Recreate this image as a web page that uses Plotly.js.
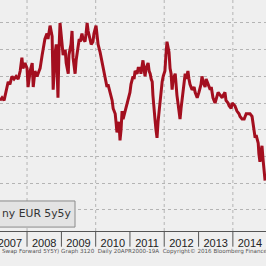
<!DOCTYPE html>
<html><head><meta charset="utf-8">
<script src="https://cdn.plot.ly/plotly-3.0.1.min.js"></script>
<style>html,body{margin:0;padding:0;background:#efefef;}#c{width:266px;height:266px;}</style>
</head><body><div id="c"></div>
<script>
// time in decimal years
const t = [2007.21,2007.27,2007.33,2007.39,2007.45,2007.50,2007.56,2007.62,2007.68,2007.74,2007.80,2007.85,2007.88,2007.94,
2008.00,2008.03,2008.09,2008.15,2008.18,2008.23,2008.29,2008.35,2008.38,2008.44,2008.47,2008.52,2008.58,2008.61,2008.67,2008.70,2008.73,2008.76,2008.79,2008.82,2008.85,2008.87,2008.90,2008.93,2008.96,2008.99,
2009.02,2009.05,2009.11,2009.14,2009.20,2009.22,2009.28,2009.31,2009.34,2009.37,2009.40,2009.43,2009.49,2009.52,2009.55,2009.60,2009.63,2009.69,2009.72,2009.75,2009.78,2009.84,2009.87,2009.92,2009.95,
2010.01,2010.04,2010.07,2010.13,2010.19,2010.25,2010.30,2010.33,2010.36,2010.42,2010.48,2010.51,2010.57,2010.60,2010.62,2010.68,2010.71,2010.74,2010.77,2010.80,2010.86,2010.92,2010.95,
2011.00,2011.03,2011.09,2011.12,2011.15,2011.21,2011.24,2011.30,2011.32,2011.38,2011.41,2011.44,2011.47,2011.53,2011.56,2011.59,2011.62,2011.65,2011.67,2011.70,2011.73,2011.76,2011.79,2011.82,2011.85,2011.88,2011.91,2011.94,2011.97,
2012.02,2012.05,2012.08,2012.11,2012.14,2012.17,2012.20,2012.23,2012.26,2012.32,2012.34,2012.37,2012.40,2012.43,2012.46,2012.49,2012.52,2012.55,2012.61,2012.64,2012.69,2012.72,2012.75,2012.81,2012.87,2012.90,2012.96,
2013.01,2013.07,2013.10,2013.13,2013.19,2013.22,2013.28,2013.34,2013.37,2013.42,2013.48,2013.54,2013.57,2013.63,2013.69,2013.72,2013.77,2013.80,2013.86,2013.89,2013.95,2013.98,
2014.04,2014.06,2014.12,2014.18,2014.21,2014.27,2014.33,2014.36,2014.39,2014.44,2014.50,2014.56,2014.59,2014.65,2014.68,2014.74,2014.76,2014.79,2014.82,2014.85,2014.88,2014.91,2014.94];
// EUR 5y5y values (%)
const swap5y5y = [2.31,2.32,2.31,2.34,2.38,2.37,2.40,2.39,2.40,2.39,2.42,2.47,2.43,2.45,
2.43,2.36,2.42,2.45,2.36,2.42,2.40,2.42,2.43,2.48,2.51,2.54,2.56,2.54,2.59,2.56,2.55,2.35,2.46,2.49,2.52,2.46,2.32,2.50,2.60,2.56,
2.51,2.48,2.50,2.45,2.41,2.48,2.52,2.57,2.47,2.44,2.41,2.46,2.53,2.54,2.53,2.56,2.54,2.53,2.56,2.60,2.57,2.54,2.52,2.53,2.56,
2.59,2.56,2.52,2.49,2.45,2.41,2.39,2.36,2.37,2.34,2.31,2.28,2.26,2.22,2.19,2.23,2.16,2.20,2.27,2.24,2.27,2.29,2.31,
2.34,2.37,2.40,2.39,2.42,2.41,2.43,2.43,2.41,2.46,2.42,2.40,2.43,2.45,2.42,2.41,2.39,2.38,2.33,2.27,2.24,2.20,2.17,2.23,2.27,2.31,2.35,2.38,2.40,
2.42,2.48,2.53,2.51,2.49,2.43,2.41,2.35,2.39,2.41,2.37,2.33,2.30,2.27,2.24,2.28,2.31,2.36,2.41,2.39,2.42,2.39,2.37,2.35,2.36,2.34,2.32,
2.34,2.37,2.40,2.38,2.36,2.39,2.37,2.35,2.36,2.32,2.30,2.33,2.34,2.33,2.32,2.33,2.34,2.31,2.30,2.29,2.28,2.30,
2.29,2.29,2.27,2.26,2.25,2.24,2.24,2.25,2.26,2.26,2.26,2.25,2.22,2.17,2.18,2.15,2.11,2.08,2.12,2.14,2.09,2.04,2.01];
const years = [2007, 2008, 2009, 2010, 2011, 2012, 2013, 2014];
const gridYears = [2008, 2010, 2012, 2014];
const legendText = 'ny EUR 5y5y';
const footerText = 'Swap Forward 5Y5Y) Graph 3120  Daily 20APR2000-19A  Copyright\u00a9 2016 Bloomberg Finance L.P.';

function toDate(y){
  const Y = Math.floor(y), f = y - Y;
  const a = Date.UTC(Y,0,1), b = Date.UTC(Y+1,0,1);
  return new Date(a + f*(b-a)).toISOString().slice(0,16).replace('T',' ');
}
const dates = t.map(toDate);

const shapes = gridYears.map(y => ({type:'line', xref:'x', yref:'paper', x0:y+'-01-01', x1:y+'-01-01', y0:0, y1:1,
  line:{color:'#b4b4b4', width:1, dash:'dot'}, layer:'below'}));
years.slice(1).forEach(y => shapes.push({type:'line', xref:'x', yref:'paper', x0:y+'-01-01', x1:y+'-01-01',
  y0:0, y1:-0.068, line:{color:'#555', width:1}}));
shapes.push({type:'rect', xref:'paper', yref:'paper', x0:-0.02, x1:0.282, y0:0.017, y1:0.13,
  fillcolor:'#e3e3e3', line:{color:'#8a8a8a', width:1}});

Plotly.newPlot('c', [{
  x: dates, y: swap5y5y, type:'scatter', mode:'lines',
  line:{color:'#a30f1f', width:3}, hoverinfo:'skip'
}], {
  width:266, height:266,
  margin:{l:0, r:0, t:0, b:35, pad:0},
  paper_bgcolor:'#efefef', plot_bgcolor:'#efefef',
  showlegend:false,
  xaxis:{type:'date', range:['2007-03-19','2014-12-20'],
    tickvals: years.map(y => y+'-07-02'), ticktext: years.map(String), ticks:'',
    ticklabelstandoff:2, ticklabeloverflow:'allow',
    showline:true, linecolor:'#555', linewidth:1, showgrid:false, zeroline:false,
    tickfont:{family:'Liberation Sans Narrow, Liberation Sans, Arial, sans-serif', size:11, color:'#222'}},
  yaxis:{range:[1.821, 2.686], tick0:1.9, dtick:0.1, showticklabels:false, ticks:'',
    showgrid:true, gridcolor:'#b4b4b4', griddash:'dot', gridwidth:1, zeroline:false, showline:false},
  shapes: shapes,
  annotations:[
    {xref:'paper', yref:'paper', x:0.0, y:0.0736, xanchor:'left', yanchor:'middle', showarrow:false,
     text: legendText, font:{family:'DejaVu Sans, sans-serif', size:10.8, color:'#333'}},
    {xref:'paper', yref:'paper', x:0.0, y:-0.09, xanchor:'left', yanchor:'middle', showarrow:false,
     text: footerText, font:{family:'DejaVu Sans, sans-serif', size:5.6, color:'#555'}}
  ]
}, {staticPlot:true, displayModeBar:false});
</script></body></html>
